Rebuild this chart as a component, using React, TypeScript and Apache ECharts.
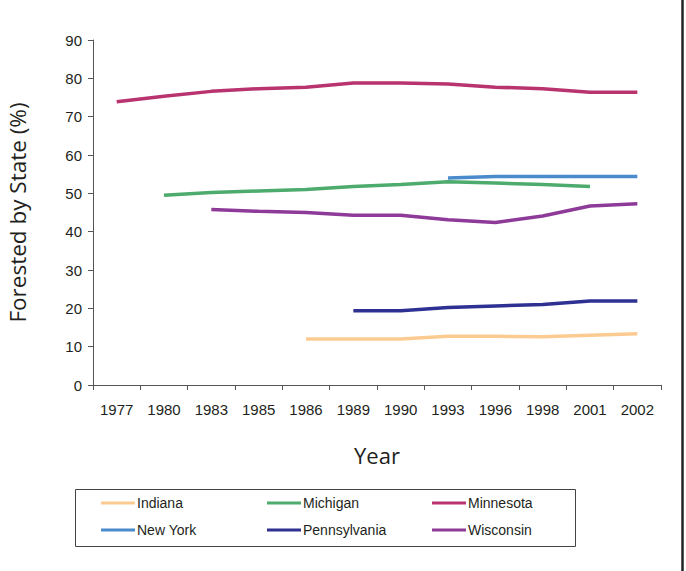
import React, { useEffect, useRef } from "react";
import * as echarts from "echarts";

const years = ["1977", "1980", "1983", "1985", "1986", "1989", "1990", "1993", "1996", "1998", "2001", "2002"];
const indiana = [null, null, null, null, 12.0, 12.0, 12.0, 12.7, 12.7, 12.6, 13.0, 13.4];
const michigan = [null, 49.5, 50.2, 50.6, 51.0, 51.8, 52.3, 53.0, 52.7, 52.3, 51.8, null];
const minnesota = [73.9, 75.3, 76.6, 77.3, 77.7, 78.8, 78.8, 78.5, 77.7, 77.3, 76.4, 76.4];
const newYork = [null, null, null, null, null, null, null, 54.0, 54.4, 54.4, 54.4, 54.4];
const pennsylvania = [null, null, null, null, null, 19.4, 19.4, 20.2, 20.6, 21.0, 21.9, 21.9];
const wisconsin = [null, null, 45.8, 45.3, 45.0, 44.3, 44.3, 43.1, 42.4, 44.1, 46.7, 47.3];

const seriesNames = ["Indiana", "Michigan", "Minnesota", "New York", "Pennsylvania", "Wisconsin"];
const seriesData = [indiana, michigan, minnesota, newYork, pennsylvania, wisconsin];
const colors = ["#FCCB92", "#4DAB6D", "#B9336F", "#4A8CCB", "#2E3192", "#8E3A98"];

export default function App() {
  const ref = useRef<HTMLDivElement>(null);
  useEffect(() => {
    document.body.style.margin = "0";
    const chart = echarts.init(ref.current!, null, { renderer: "svg" });
    const legendPos = [
      { left: 101, top: 496 },
      { left: 267, top: 496 },
      { left: 432, top: 496 },
      { left: 101, top: 523 },
      { left: 267, top: 523 },
      { left: 432, top: 523 },
    ];
    chart.setOption({
      animation: false,
      backgroundColor: "#ffffff",
      grid: { left: 93, right: 25, top: 40, bottom: 186, containLabel: false, outerBoundsMode: "none" },
      xAxis: {
        type: "category",
        data: years,
        boundaryGap: true,
        name: "Year",
        nameLocation: "middle",
        nameGap: 59,
        nameMoveOverlap: false,
        nameTextStyle: { fontFamily: "Open Sans", fontSize: 22, color: "#231f20" },
        axisLine: { lineStyle: { color: "#555", width: 1 } },
        axisTick: { show: true, alignWithLabel: false, length: 5, lineStyle: { color: "#555" } },
        axisLabel: { fontFamily: "Liberation Sans", fontSize: 15, color: "#231f20", margin: 17, interval: 0 },
        splitLine: { show: false },
      },
      yAxis: {
        type: "value",
        min: 0,
        max: 90,
        interval: 10,
        name: "Forested by State (%)",
        nameLocation: "middle",
        nameGap: 64,
        nameRotate: 90,
        nameMoveOverlap: false,
        nameTextStyle: { fontFamily: "Open Sans", fontSize: 22.5, lineHeight: 24, color: "#231f20" },
        axisLine: { show: true, lineStyle: { color: "#555", width: 1 } },
        axisTick: { show: true, length: 5, lineStyle: { color: "#555" } },
        axisLabel: { fontFamily: "Liberation Sans", fontSize: 15, color: "#231f20", margin: 11 },
        splitLine: { show: false },
      },
      legend: legendPos.map((p, i) => ({
        data: [seriesNames[i]],
        left: p.left,
        top: p.top,
        orient: "horizontal",
        icon: "rect",
        itemWidth: 34,
        itemHeight: 3,
        padding: 0,
        selectedMode: false,
        textStyle: {
          fontFamily: "Liberation Sans",
          fontSize: 14,
          color: "#231f20",
          padding: [0, 0, 0, -3],
        },
      })),
      graphic: [
        {
          type: "rect",
          shape: { x: 75.5, y: 489.5, width: 500, height: 57 },
          style: { fill: "none", stroke: "#444", lineWidth: 1 },
          silent: true,
        },
        {
          type: "line",
          shape: { x1: 682.5, y1: 0, x2: 682.5, y2: 571 },
          style: { stroke: "#222", lineWidth: 2.5 },
          silent: true,
        },
      ],
      series: seriesNames.map((name, i) => ({
        name,
        type: "line",
        data: seriesData[i],
        showSymbol: false,
        connectNulls: false,
        color: colors[i],
        lineStyle: { width: 3.5, color: colors[i] },
      })),
    });
    return () => chart.dispose();
  }, []);
  return <div ref={ref} style={{ width: 686, height: 571 }} />;
}
